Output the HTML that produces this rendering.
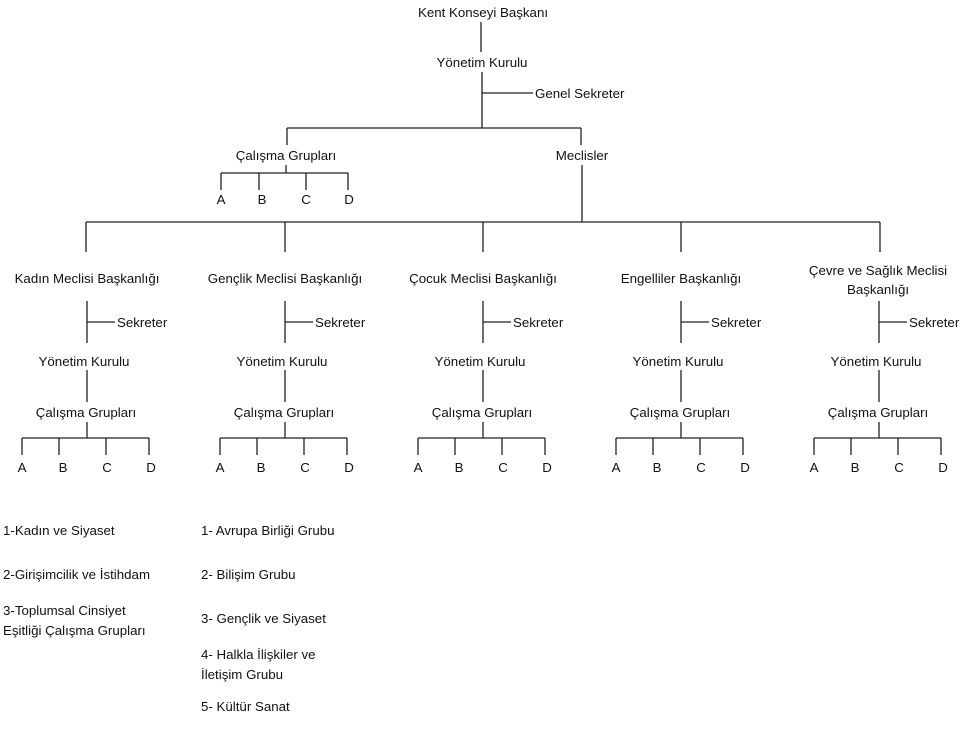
<!DOCTYPE html>
<html><head><meta charset="utf-8"><style>
body{margin:0;width:965px;height:729px;background:#fff;position:relative;overflow:hidden;font-family:"Liberation Sans",sans-serif;font-size:13.3px;color:#111}
.t{position:absolute;white-space:nowrap;line-height:16px}
.c{width:240px;text-align:center}
svg{position:absolute;left:0;top:0}
</style></head><body>
<svg width="965" height="729" stroke="#222" stroke-width="1.3" fill="none">
<path d="M481 22V52M482 72V128M482 93H533M287 128H581M287 128V145M581 128V145M221 173H348M286 165V173M221 173V190M259 173V190M306 173V190M348 173V190M582 165V222M86 222H880M86 222V252M285 222V252M483 222V252M681 222V252M880 222V252"/>
<g id="col">
<path d="M87 301V343M87 322H115M87 370V402M87 422V438M22 438H149M22 438V455M59 438V455M106 438V455M149 438V455"/>
</g>
<use href="#col" x="198"/><use href="#col" x="396"/><use href="#col" x="594"/><use href="#col" x="792"/>
</svg>
<div class="t c" style="left:363px;top:5px">Kent Konseyi Başkanı</div>
<div class="t c" style="left:362px;top:55px">Yönetim Kurulu</div>
<div class="t" style="left:535px;top:86px">Genel Sekreter</div>
<div class="t c" style="left:166px;top:148px">Çalışma Grupları</div>
<div class="t c" style="left:462px;top:148px">Meclisler</div>
<div class="t c" style="left:101px;top:192px">A</div>
<div class="t c" style="left:142px;top:192px">B</div>
<div class="t c" style="left:186px;top:192px">C</div>
<div class="t c" style="left:229px;top:192px">D</div>

<div class="t c" style="left:-33px;top:271px">Kadın Meclisi Başkanlığı</div>
<div class="t c" style="left:165px;top:271px">Gençlik Meclisi Başkanlığı</div>
<div class="t c" style="left:363px;top:271px">Çocuk Meclisi Başkanlığı</div>
<div class="t c" style="left:561px;top:271px">Engelliler Başkanlığı</div>
<div class="t c" style="left:758px;top:261px;line-height:19px">Çevre ve Sağlık Meclisi<br>Başkanlığı</div>

<div class="t" style="left:117px;top:315px">Sekreter</div>
<div class="t" style="left:315px;top:315px">Sekreter</div>
<div class="t" style="left:513px;top:315px">Sekreter</div>
<div class="t" style="left:711px;top:315px">Sekreter</div>
<div class="t" style="left:909px;top:315px">Sekreter</div>

<div class="t c" style="left:-36px;top:354px">Yönetim Kurulu</div>
<div class="t c" style="left:162px;top:354px">Yönetim Kurulu</div>
<div class="t c" style="left:360px;top:354px">Yönetim Kurulu</div>
<div class="t c" style="left:558px;top:354px">Yönetim Kurulu</div>
<div class="t c" style="left:756px;top:354px">Yönetim Kurulu</div>

<div class="t c" style="left:-34px;top:405px">Çalışma Grupları</div>
<div class="t c" style="left:164px;top:405px">Çalışma Grupları</div>
<div class="t c" style="left:362px;top:405px">Çalışma Grupları</div>
<div class="t c" style="left:560px;top:405px">Çalışma Grupları</div>
<div class="t c" style="left:758px;top:405px">Çalışma Grupları</div>

<div class="t c" style="left:-98px;top:460px">A</div><div class="t c" style="left:-57px;top:460px">B</div><div class="t c" style="left:-13px;top:460px">C</div><div class="t c" style="left:31px;top:460px">D</div>
<div class="t c" style="left:100px;top:460px">A</div><div class="t c" style="left:141px;top:460px">B</div><div class="t c" style="left:185px;top:460px">C</div><div class="t c" style="left:229px;top:460px">D</div>
<div class="t c" style="left:298px;top:460px">A</div><div class="t c" style="left:339px;top:460px">B</div><div class="t c" style="left:383px;top:460px">C</div><div class="t c" style="left:427px;top:460px">D</div>
<div class="t c" style="left:496px;top:460px">A</div><div class="t c" style="left:537px;top:460px">B</div><div class="t c" style="left:581px;top:460px">C</div><div class="t c" style="left:625px;top:460px">D</div>
<div class="t c" style="left:694px;top:460px">A</div><div class="t c" style="left:735px;top:460px">B</div><div class="t c" style="left:779px;top:460px">C</div><div class="t c" style="left:823px;top:460px">D</div>

<div class="t" style="left:3px;top:523px">1-Kadın ve Siyaset</div>
<div class="t" style="left:3px;top:567px">2-Girişimcilik ve İstihdam</div>
<div class="t" style="left:3px;top:601px;line-height:20px">3-Toplumsal Cinsiyet<br>Eşitliği Çalışma Grupları</div>
<div class="t" style="left:201px;top:523px">1- Avrupa Birliği Grubu</div>
<div class="t" style="left:201px;top:567px">2- Bilişim Grubu</div>
<div class="t" style="left:201px;top:611px">3- Gençlik ve Siyaset</div>
<div class="t" style="left:201px;top:645px;line-height:20px">4- Halkla İlişkiler ve<br>İletişim Grubu</div>
<div class="t" style="left:201px;top:699px">5- Kültür Sanat</div>
</body></html>
